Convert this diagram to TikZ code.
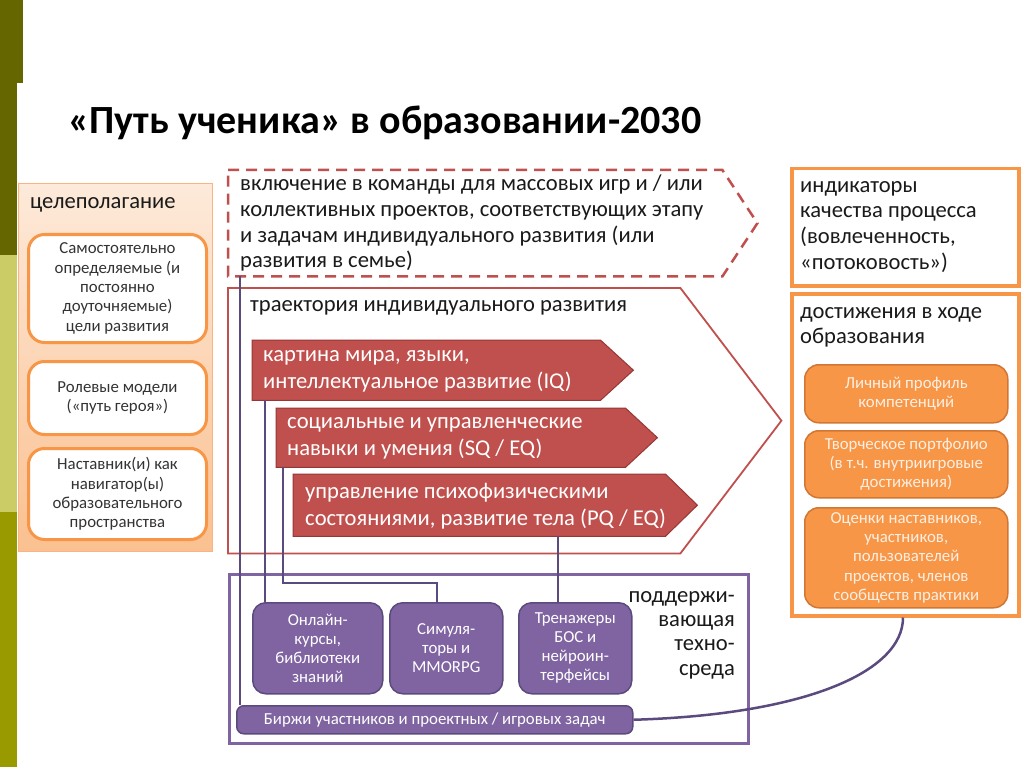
\documentclass[tikz,border=0pt]{standalone}
\usepackage{fontspec}
\setmainfont{Carlito}
\usetikzlibrary{calc}
\definecolor{olivedark}{HTML}{666600}
\definecolor{olivelight}{HTML}{CCCC66}
\definecolor{olivemid}{HTML}{999900}
\definecolor{redfill}{HTML}{C0504D}
\definecolor{redline}{HTML}{953735}
\definecolor{orangeline}{HTML}{F79646}
\definecolor{orangedark}{HTML}{D27634}
\definecolor{peachtop}{HTML}{FDEADA}
\definecolor{peachbot}{HTML}{FAC090}
\definecolor{peachline}{HTML}{F9B384}
\definecolor{purplefill}{HTML}{8064A2}
\definecolor{purpleline}{HTML}{5B4A7E}
\definecolor{txtcol}{HTML}{1A1A1A}
\definecolor{boxtxt}{HTML}{333333}
\definecolor{lighttxt}{HTML}{FDEFE3}
\tikzset{
  big/.style={font=\fontsize{22.6}{25.7}\selectfont, text=txtcol, inner sep=0pt},
  wtext/.style={font=\fontsize{22.6}{27}\selectfont, text=white, inner sep=0pt, align=left},
  frame/.style={inner sep=0pt, anchor=north west},
  goalbox/.style={frame, draw=orangeline, line width=3pt, fill=white, rounded corners=16pt,
    font=\fontsize{16.8}{19.3}\selectfont, text=boxtxt, align=center},
  achbox/.style={frame, draw=orangedark, line width=1.5pt, fill=orangeline, rounded corners=14pt,
    font=\fontsize{16.8}{19.4}\selectfont, text=lighttxt, align=center},
  techbox/.style={frame, draw=purpleline, line width=1.5pt, fill=purplefill, rounded corners=13pt,
    font=\fontsize{16.8}{19}\selectfont, text=white, align=center},
  orangeframe/.style={frame, draw=orangeline, line width=3.5pt, fill=white},
  redarrow/.style={fill=redfill, draw=redline, line width=1pt},
  conn/.style={draw=purpleline, line width=2.5pt},
}
\begin{document}
\begin{tikzpicture}[x=1pt,y=-1pt]
\useasboundingbox (0,0) rectangle (1024,767);
\fill[white] (0,0) rectangle (1024,767);
% left bars
\fill[olivedark] (0,0) rectangle (23,83);
\fill[olivedark] (0,83) rectangle (17,255);
\fill[olivelight] (0,255) rectangle (17,512);
\fill[olivemid] (0,512) rectangle (17,767);

% title
\node[anchor=base west, inner sep=0pt, font=\fontsize{40}{46}\selectfont\bfseries, text=black] (title) at (68,134) {«Путь ученика» в образовании-2030};

% left panel
\node[frame, minimum width=194pt, minimum height=368pt, top color=peachtop, bottom color=peachbot, draw=peachline, line width=1.2pt] (goal) at (18,183) {};
\node[big, anchor=base west] (goallbl) at (30,209) {целеполагание};
\node[goalbox, minimum width=178pt, minimum height=108pt] (g1) at (27,233) {Самостоятельно\\определяемые (и\\постоянно\\доуточняемые)\\цели развития};
\node[goalbox, minimum width=178pt, minimum height=73pt] (g2) at (27,360) {Ролевые модели\\(«путь героя»)};
\node[goalbox, minimum width=178pt, minimum height=91pt] (g3) at (27,447) {Наставник(и) как\\навигатор(ы)\\образовательного\\пространства};

% dashed team pentagon
\node[frame, minimum width=494pt, minimum height=106pt] (team) at (228,170) {};
\draw[draw=redfill, line width=2.5pt, dash pattern=on 11pt off 7pt]
  (team.north west) -- (team.north east) -- ($(team.east)+(35,0)$) -- (team.south east) -- (team.south west) -- cycle;
\node[big, anchor=north west, align=left] (teamtxt) at (240,175) {включение в команды для массовых игр и / или\\коллективных проектов, соответствующих этапу\\и задачам индивидуального развития (или\\развития в семье)};

% trajectory pentagon
\node[frame, minimum width=452pt, minimum height=265pt] (traj) at (228,288) {};
\draw[draw=redfill, line width=1.8pt, fill=white]
  (traj.north west) -- (traj.north east) -- ($(traj.east)+(101,0)$) -- (traj.south east) -- (traj.south west) -- cycle;
\node[big, anchor=base west] (trajlbl) at (250,311) {траектория индивидуального развития};

% red arrows
\node[frame, minimum width=348pt, minimum height=60pt] (a1) at (252,340) {};
\draw[redarrow] (a1.north west) -- (a1.north east) -- ($(a1.east)+(33,0)$) -- (a1.south east) -- (a1.south west) -- cycle;
\node[wtext, anchor=west] (a1t) at ($(a1.west)+(11,1)$) {картина мира, языки,\\интеллектуальное развитие (IQ)};

\node[frame, minimum width=349pt, minimum height=59pt] (a2) at (276,408) {};
\draw[redarrow] (a2.north west) -- (a2.north east) -- ($(a2.east)+(32,0)$) -- (a2.south east) -- (a2.south west) -- cycle;
\node[wtext, anchor=west] (a2t) at ($(a2.west)+(11,1)$) {социальные и управленческие\\навыки и умения (SQ / EQ)};

\node[frame, minimum width=372pt, minimum height=62pt] (a3) at (293,474) {};
\draw[redarrow] (a3.north west) -- (a3.north east) -- ($(a3.east)+(32,0)$) -- (a3.south east) -- (a3.south west) -- cycle;
\node[wtext, anchor=west] (a3t) at ($(a3.west)+(12,1)$) {управление психофизическими\\состояниями, развитие тела (PQ / EQ)};

% right panel
\node[orangeframe, minimum width=227pt, minimum height=117pt] (ind) at (790,167) {};
\node[big, anchor=north west, align=left] (indtxt) at (800,181) {индикаторы\\качества процесса\\(вовлеченность,\\«потоковость»)};
\node[orangeframe, minimum width=227pt, minimum height=322pt] (ach) at (790,292) {};
\node[big, anchor=north west, align=left] (achtxt) at (800,307) {достижения в ходе\\образования};
\node[achbox, minimum width=203pt, minimum height=58pt] (o1) at (804,364) {Личный профиль\\компетенций};
\node[achbox, minimum width=203pt, minimum height=67pt] (o2) at (804,430) {Творческое портфолио\\(в т.ч. внутриигровые\\достижения)};
\node[achbox, minimum width=203pt, minimum height=100pt] (o3) at (804,507) {Оценки наставников,\\участников,\\пользователей\\проектов, членов\\сообществ практики};

% techno environment
\node[frame, minimum width=519pt, minimum height=169pt, draw=purplefill, line width=2.5pt] (tech) at (228,573) {};
\node[big, anchor=north east, align=right, font=\fontsize{22.6}{24.4}\selectfont] (techtxt) at (735,591) {поддержи-\\вающая\\техно-\\среда};

\node[techbox, minimum width=130pt, minimum height=91pt] (p1) at (252,602) {Онлайн-\\курсы,\\библиотеки\\знаний};
\node[techbox, minimum width=113pt, minimum height=91pt] (p2) at (389,602) {Симуля-\\торы и\\MMORPG};
\node[techbox, minimum width=113pt, minimum height=91pt] (p3) at (518,602) {Тренажеры\\БОС и\\нейроин-\\терфейсы};
\node[techbox, rounded corners=7pt, minimum width=396pt, minimum height=28pt] (bx) at (236,705) {Биржи участников и проектных / игровых задач};

% connectors
\draw[conn] ($(team.south west)+(12,0)$) -- ($(bx.north west)+(4,0)$);
\draw[conn] ($(a1.south west)+(13,0)$) -- ($(p1.north west)+(13,0)$);
\draw[conn] ($(a2.south west)+(7,0)$) |- ($(p2.north west)+(48,-19)$) -- ($(p2.north west)+(48,0)$);
\draw[conn] ($(a3.south west)+(265,0)$) -- ($(p3.north west)+(40,0)$);
\draw[conn] (bx.east) .. controls +(170,-5) and +(0,55) .. ($(ach.south west)+(113,0)$);
\end{tikzpicture}
\end{document}
